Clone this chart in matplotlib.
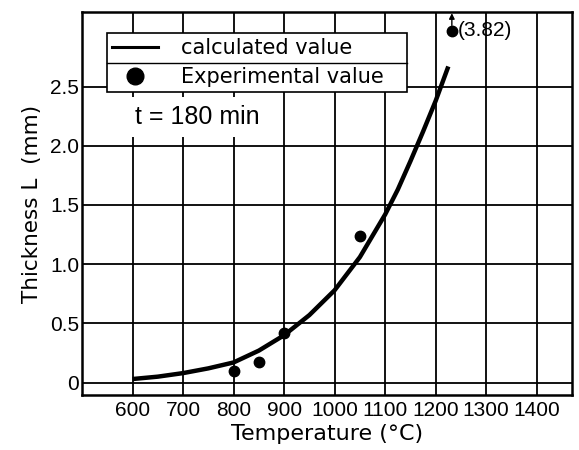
import numpy as np
import matplotlib.pyplot as plt
from matplotlib.lines import Line2D

plt.rcParams['font.family'] = ['DejaVu Sans']

# calculated thickness curve (t = 180 min)
calc_T = [600, 650, 700, 750, 800, 850, 900, 950, 1000, 1050, 1100, 1125, 1150, 1175, 1200, 1225]
calc_L = [0.03, 0.05, 0.08, 0.12, 0.17, 0.27, 0.40, 0.57, 0.78, 1.06, 1.42, 1.63, 1.87, 2.12, 2.38, 2.67]

# experimental values
exp_T = [800, 850, 900, 1050, 1232]
exp_L = [0.10, 0.17, 0.42, 1.24, 3.82]

ylim_top = 3.13
clip_L = 2.97  # off-scale points are drawn here with an arrow

xticks = [600, 700, 800, 900, 1000, 1100, 1200, 1300, 1400]
yticks = [0, 0.5, 1.0, 1.5, 2.0, 2.5]
ytick_labels = ['0', '0.5', '1.0', '1.5', '2.0', '2.5']

num_font = dict(family='Liberation Sans', size=15)

fig = plt.figure(figsize=(5.79, 4.5), dpi=100)
ax = fig.add_axes([0.1416, 0.1222, 0.8465, 0.8511])

ax.set_xlim(500, 1470)
ax.set_ylim(-0.105, ylim_top)

for x in xticks:
    ax.axvline(x, color='black', lw=1.3, zorder=1)
for y in yticks:
    ax.axhline(y, color='black', lw=1.3, zorder=1)

for s in ax.spines.values():
    s.set_linewidth(1.8)

ax.set_xticks(xticks)
ax.set_xticklabels([str(v) for v in xticks], fontdict=num_font)
ax.set_yticks(yticks)
ax.set_yticklabels(ytick_labels, fontdict=num_font)
ax.tick_params(axis='x', length=0, pad=4)
ax.tick_params(axis='y', length=0, pad=2)

ax.plot(calc_T, calc_L, color='black', lw=3.2, solid_capstyle='butt', zorder=3)

plot_L = [min(v, clip_L) for v in exp_L]
ax.plot(exp_T, plot_L, 'o', color='black', ms=7.5, zorder=4)

for t, v in zip(exp_T, exp_L):
    if v > clip_L:
        ax.annotate('', xy=(t, 3.12), xytext=(t, clip_L),
                    arrowprops=dict(arrowstyle='-|>', color='black', lw=1.0,
                                    mutation_scale=8, shrinkA=4, shrinkB=0))
        ax.text(t + 12, clip_L, '(%.2f)' % v, fontsize=15, va='center', ha='left',
                family='Liberation Sans')

ax.text(605, 2.245, 't = 180 min', fontsize=18, va='center', ha='left',
        family='Liberation Sans', zorder=2,
        bbox=dict(facecolor='white', edgecolor='none', pad=6))

ax.set_xlabel('Temperature (\u00b0C)', fontsize=16, labelpad=3)
ax.set_ylabel('Thickness L  (mm)', fontsize=15.5, labelpad=6)

handles = [Line2D([], [], color='black', lw=2.2),
           Line2D([], [], color='black', marker='o', ls='none', ms=12)]
leg = ax.legend(handles, ['calculated value', 'Experimental value'],
                loc='upper left', bbox_to_anchor=(0.051, 0.796, 0.612, 0.149),
                mode='expand', fancybox=False, edgecolor='black', framealpha=1,
                fontsize=15, handlelength=2.2, handletextpad=1.1,
                borderaxespad=0, borderpad=0.25, labelspacing=0.42)
leg.get_frame().set_linewidth(1.2)
leg.set_zorder(5)

# divider between the two legend rows
fig.canvas.draw()
bb = leg.get_window_extent().transformed(ax.transAxes.inverted())
ymid = (bb.y0 + bb.y1) / 2
ax.plot([bb.x0, bb.x1], [ymid, ymid], transform=ax.transAxes, color='black',
        lw=1.0, zorder=6, clip_on=False)

fig.savefig('out.png', dpi=100)
